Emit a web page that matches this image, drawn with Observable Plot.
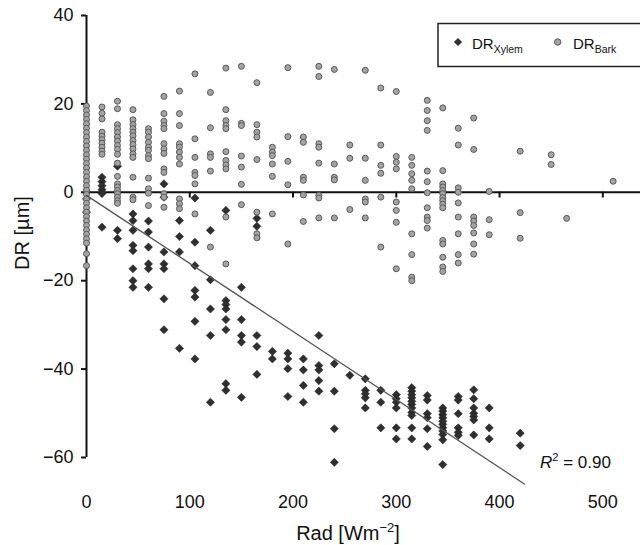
<!DOCTYPE html>
<html>
<head>
<meta charset="utf-8">
<script src="https://cdn.jsdelivr.net/npm/d3@7"></script>
<script src="https://cdn.jsdelivr.net/npm/@observablehq/plot@0.6"></script>
<style>
  html, body { margin: 0; padding: 0; background: #fff; }
  #chart { position: relative; width: 640px; height: 545px; }
</style>
</head>
<body>
<div id="chart"></div>
<script>
// ---- data ----
const xTicks = [0, 100, 200, 300, 400, 500];
const yTicks = [40, 20, 0, -20, -40, -60];

// Xylem diameter change: [Rad, list of DR values]
const xylemCols = [
  [0,   [0, -1.5, -4.5]],
  [15,  [3.4, 2.4, 1.5, 0.6, -0.3, -7.9]],
  [30,  [5.9, -8.6, -10.5]],
  [45,  [-4.9, -6.4, -8.6, -12, -13.2, -17.3, -20, -21.5]],
  [60,  [-6.5, -9, -12.4, -16.2, -17.3, -21.5]],
  [75,  [1.9, -1.1, -13.5, -16.2, -17.3, -24.1, -31.1]],
  [90,  [-6.4, -10, -13.5, -35.3]],
  [105, [-1.3, -11.3, -16.6, -22.2, -23.7, -29.2, -37.7]],
  [120, [-8.6, -19.8, -26.4, -32.4, -47.5]],
  [135, [-4.1, -24.5, -25.4, -26.4, -28.8, -31.1, -43.3, -44.8]],
  [150, [-21.5, -28.8, -32.4, -33.9, -46.4]],
  [165, [-5.9, -7.7, -32.4, -34.9, -41.2]],
  [180, [-36, -37.7]],
  [195, [-36.4, -37.7, -39.9, -46.2]],
  [210, [-37.7, -40.2, -43.7, -47.5]],
  [225, [-32.4, -39.2, -40.2, -42.6, -45]],
  [240, [-38.8, -45, -53.5, -61.1]],
  [255, [-41.4]],
  [270, [-42.2, -44.8, -45.6, -46.5, -48.8]],
  [285, [-44.8, -47.5, -53.3]],
  [300, [-45.8, -46.7, -47.5, -48.8, -53.3, -55.8]],
  [315, [-44.2, -45, -45.8, -46.5, -47.3, -48, -48.8, -49.8, -50.5, -53.3, -55.8]],
  [330, [-46, -47, -50.1, -51, -53.5, -57.5]],
  [345, [-48.8, -49.5, -50.3, -51, -51.8, -52.5, -53.3, -54, -54.8, -56, -61.6]],
  [360, [-46.2, -47, -50.1, -53.3, -54.3, -55]],
  [375, [-44.7, -46.7, -48.8, -50, -50.7, -51.5, -54.9]],
  [390, [-48.8, -53.3, -55.8]],
  [420, [-54.5, -57.3]]
];

// Bark diameter change: [Rad, list of DR values]
const barkCols = [
  [0,   [19.5, 18.5, 17.5, 16.5, 15.5, 14.5, 13.5, 12.5, 11.5, 10.5, 9.5, 8.5, 7.5, 6.5, 5.5, 4.5,
         3.5, 2.5, 1.5, 0.5, -0.5, -1.5, -2.5, -3.5, -4.5, -5.5, -6.5, -7.5, -8.5, -9.5, -10.5, -11.5,
         -13.9, -16.6]],
  [15,  [19.3, 17.9, 16.6, 13.6, 12.7, 11.9, 11.1, 10.2, 9.3, 8.6]],
  [30,  [20.6, 18.9, 15.3, 14.4, 13.5, 12.5, 11.6, 10.6, 9.7, 8.6, 6.6, 3.6, 1.9, 1.2, 0.4, -0.3, -1.1, -1.9, -2.5]],
  [45,  [18.7, 16.4, 15.3, 14.4, 13.6, 12.8, 11.7, 10.8, 9.8, 8.7, 7.9, 3.4, -1.1, -1.7]],
  [60,  [14.4, 13.6, 12.5, 11.3, 10.2, 9.5, 8.3, 7.6, 3.2, 0.8, -0.2, -3]],
  [75,  [21.7, 17.8, 16.1, 15.1, 14.4, 11, 9.8, 8.8, 5.3, 4.5, -0.3, -1.1, -3.4]],
  [90,  [22.9, 17.8, 15.1, 11, 10.2, 9.1, 7.9, 6.4, -1.5, -2.6, -3.7]],
  [105, [26.8, 12.1, 7.9, 4.5, 3.8, 1.9, -4.9]],
  [120, [22.6, 14.6, 8.7, 7.9, 4.8, -12.4]],
  [135, [28.1, 18.7, 16.2, 15.1, 14.4, 9.2, 7.2, 6.2, 5.3, -5.6, -16.2]],
  [150, [28.5, 15.6, 15.1, 8.2, 5.7, 1.8, -2.8]],
  [165, [24.8, 15.3, 13.6, 12.5, 7.4, -4.5, -9.4, -10.3]],
  [180, [10.2, 9.1, 8.3, 6.4, 3.6, -4.9]],
  [195, [28.2, 12.6, 7, 1.7, -11.7]],
  [210, [12.5, 11.3, 3.4, 2.7, -0.6, -6.6]],
  [225, [28.5, 26.2, 11, 10.2, 6.6, -0.7, -1.3, -5.8]],
  [240, [27.8, 6.4, 3.4, 2.8, -5.8]],
  [255, [10.7, 7.7, -3.9]],
  [270, [27.6, 7.7, 2.7, -1.5, -2.2, -5.8]],
  [285, [23.6, 10.7, 6.1, 4.3, -1.1, -12.4]],
  [300, [22.8, 8.1, 6.8, 5.3, -2.2, -4.1, -6.8, -17.3]],
  [315, [7.9, 6.1, 4.2, 2.7, 0.8, -9.4, -14.1, -19.2, -20]],
  [330, [20.8, 18.5, 16.2, 14, 4.8, 2.4, -0.1, -3.5, -5.6, -6.4, -8.1]],
  [345, [19.1, 4.9, 1.9, 1.2, 0.4, -0.3, -1.2, -1.9, -2.7, -3.5, -10.9, -11.7, -14.7, -16.9, -17.9]],
  [360, [14.5, 10.7, 1, 0, -2.4, -5.6, -9.4, -14.1, -16]],
  [375, [16.8, 9.7, -5.6, -6.5, -7.5, -9.2, -11.7, -14]],
  [390, [0.2, -6.2, -9.6]],
  [420, [9.3, -4.6, -10.4]],
  [450, [8.5, 6.3]],
  [465, [-5.9]],
  [510, [2.5]]
];

// Linear fit of DR_Xylem as drawn: DR = intercept + slope * Rad, drawn over this Rad span
const fitIntercept = -0.7;
const fitSlope = -0.154;
const fitRange = [0, 424];
const r2Label = "0.90";

// ---- build tables ----
const flatten = cols => cols.flatMap(([rad, vals]) => vals.map(v => ({rad, dr: v})));
const xylem = flatten(xylemCols);
const bark = flatten(barkCols);
const fit = fitRange.map(r => ({rad: r, dr: fitIntercept + fitSlope * r}));

const minus = d => d < 0 ? "\u2212" + Math.abs(d) : String(d);

const chart = Plot.plot({
  width: 640,
  height: 545,
  marginLeft: 86,
  marginRight: 0,
  marginTop: 15,
  marginBottom: 61.5,
  style: {fontFamily: "'Liberation Sans', Arial, Helvetica, sans-serif", fontSize: "18px", background: "#fff", color: "#111"},
  x: {domain: [0, 536.5]},
  y: {domain: [-66, 40]},
  marks: [
    Plot.axisY({ticks: yTicks, tickSize: 5, tickPadding: 8, tickFormat: minus, label: null, strokeWidth: 2, fontSize: 18}),
    Plot.axisX({ticks: xTicks, tickSize: 0, tickPadding: 11, tickFormat: d => String(d), label: null, fontSize: 18}),
    Plot.ruleX([0], {y1: -60, y2: 40, stroke: "#111", strokeWidth: 2}),
    Plot.ruleY([0], {stroke: "#111", strokeWidth: 2}),
    Plot.ruleX(xTicks.filter(d => d > 0), {y1: 0, y2: -1.3, stroke: "#111", strokeWidth: 2}),
    Plot.dot(xylem, {x: "rad", y: "dr", symbol: "diamond2", r: 3.7, fill: "#2f2f2f", stroke: "#1a1a1a", strokeWidth: 0.5}),
    Plot.dot(bark, {x: "rad", y: "dr", r: 3, fill: "#a3a3a3", stroke: "#5a5a5a", strokeWidth: 1}),
    Plot.line(fit, {x: "rad", y: "dr", stroke: "#555", strokeWidth: 1.3})
  ]
});

document.getElementById("chart").appendChild(chart);

const svg = d3.select(chart);
const font = "'Liberation Sans', Arial, Helvetica, sans-serif";

// axis titles
svg.append("text")
  .attr("transform", "translate(29,233) rotate(-90)")
  .attr("text-anchor", "middle")
  .attr("font-family", font).attr("font-size", 20).attr("fill", "#111")
  .text("DR [\u00b5m]");

const xl = svg.append("text")
  .attr("x", 348).attr("y", 540)
  .attr("text-anchor", "middle")
  .attr("font-family", font).attr("font-size", 20).attr("fill", "#111");
xl.append("tspan").text("Rad [Wm");
xl.append("tspan").attr("dy", -8).attr("font-size", 13).text("\u22122");
xl.append("tspan").attr("dy", 8).text("]");

// R^2 annotation
const r2 = svg.append("text")
  .attr("x", 540).attr("y", 468)
  .attr("text-anchor", "start")
  .attr("font-family", font).attr("font-size", 17).attr("fill", "#111");
r2.append("tspan").attr("font-style", "italic").text("R");
r2.append("tspan").attr("dy", -7).attr("font-size", 11).text("2");
r2.append("tspan").attr("dy", 7).text(" = " + r2Label);

// legend
const lg = svg.append("g").attr("text-anchor", "start");
lg.append("rect").attr("x", 438).attr("y", 23.5).attr("width", 215).attr("height", 43)
  .attr("fill", "#fff").attr("stroke", "#222").attr("stroke-width", 1.5);
const sym2 = d3.symbol(d3.symbolDiamond2, Math.PI * 3.7 * 3.7);
lg.append("path").attr("d", sym2()).attr("transform", "translate(458,42)").attr("fill", "#2f2f2f");
lg.append("circle").attr("cx", 557.7).attr("cy", 42).attr("r", 3.2).attr("fill", "#a3a3a3").attr("stroke", "#5a5a5a");
const t1 = lg.append("text").attr("x", 472).attr("y", 49).attr("text-anchor", "start").attr("font-family", font).attr("font-size", 15).attr("fill", "#111");
t1.append("tspan").text("DR");
t1.append("tspan").attr("dy", 4).attr("font-size", 10.5).text("Xylem");
const t2 = lg.append("text").attr("x", 573).attr("y", 49).attr("text-anchor", "start").attr("font-family", font).attr("font-size", 15).attr("fill", "#111");
t2.append("tspan").text("DR");
t2.append("tspan").attr("dy", 4).attr("font-size", 10.5).text("Bark");
</script>
</body>
</html>
